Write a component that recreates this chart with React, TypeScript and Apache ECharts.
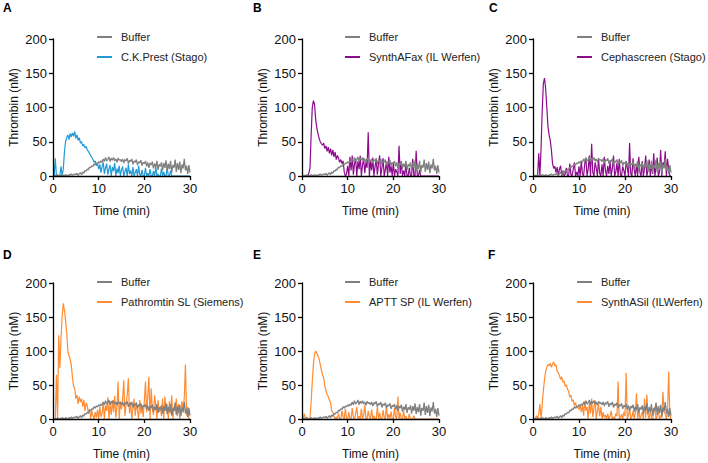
import React, { useEffect, useRef } from "react";
import * as echarts from "echarts";

// time step between samples (min)
const T_STEP = 0.25;
const xTicks = [0, 10, 20, 30];
const yTicks = [0, 50, 100, 150, 200];

const bufferVals = [
  0,0,1,0,2,0,1,0,2,1,0,2,1,0,2,1,3,1,2,3,
  2,4,1,3,5,2,6,4,8,7,10,9,13,12,15,14,18,16,19,18,
  21,19,22,20,25,21,27,22,24,28,21,26,23,27,22,25,20,26,23,24,
  21,25,19,24,22,26,18,23,21,25,17,22,20,24,16,21,19,23,15,20,
  18,22,14,20,12,19,16,21,11,18,13,22,9,17,14,20,8,19,12,23,
  7,18,10,22,5,16,12,24,6,19,9,21,4,17,11,25,8,15,3,16,5,
];

const ckPrestVals = [
  0,0,26,0,0,0,0,14,0,10,35,50,56,60,53,62,57,63,58,65,
  55,60,52,56,48,50,44,46,41,43,38,36,33,30,27,24,20,22,15,18,
  10,17,5,14,20,3,12,18,2,10,16,0,13,7,19,0,11,4,15,0,
  9,14,0,6,12,0,17,3,8,0,13,0,5,10,0,15,2,0,9,0,
  0,12,0,4,0,10,0,0,7,0,14,0,3,0,0,11,0,6,0,0,
  13,0,0,8,0,0,0,0,0,0,0,0,0,0,0,0,0,0,0,0,0,
];

const synthAFaxVals = [
  0,0,0,0,0,0,4,12,60,100,110,104,82,70,62,55,50,47,45,48,
  40,44,36,42,33,40,30,38,28,35,24,30,26,20,24,18,22,6,0,3,
  15,0,28,8,30,2,18,25,0,22,10,30,0,16,26,4,20,12,64,0,
  22,8,27,0,14,24,2,18,30,0,12,26,0,9,21,0,28,5,15,0,
  20,0,10,6,0,44,3,22,0,8,0,18,0,0,12,0,0,25,0,0,
  37,0,0,9,0,0,0,0,0,0,0,0,0,0,0,0,0,0,0,0,0,
];

const cephascreenVals = [
  0,0,0,0,0,33,0,40,95,135,143,128,100,72,60,52,38,18,11,14,
  5,13,0,10,15,0,8,0,3,12,0,0,18,2,0,10,20,0,6,0,
  14,0,22,3,0,18,26,0,10,30,0,47,5,0,20,12,0,25,4,0,
  17,0,28,8,0,15,3,22,0,11,30,0,6,19,0,25,2,0,14,8,
  0,21,12,0,48,3,0,26,9,0,17,0,28,5,0,22,0,11,30,0,
  8,24,0,18,3,33,0,12,27,0,6,38,0,20,14,36,0,25,9,0,0,
];

const pathromtinVals = [
  0,0,0,65,0,123,75,118,150,170,160,145,128,100,93,88,80,62,48,45,
  30,35,22,33,25,30,18,28,12,24,20,8,15,0,12,5,0,10,2,14,
  0,18,3,8,25,0,20,12,32,0,22,6,28,10,34,2,18,55,0,26,
  14,30,57,4,22,35,60,8,25,0,16,30,5,24,12,0,28,8,20,3,
  26,55,10,32,62,0,45,14,6,35,20,0,28,10,18,4,30,0,33,12,
  22,0,26,8,35,0,18,12,30,4,22,0,14,26,9,32,80,5,18,0,0,
];

const apttSpVals = [
  0,0,8,0,3,0,0,0,25,55,80,96,100,97,93,88,80,72,65,60,
  48,42,36,33,28,24,12,10,4,0,3,0,8,0,0,12,3,0,15,0,
  0,10,0,0,16,2,0,8,18,0,4,0,15,0,6,20,0,0,12,3,
  0,14,0,5,0,0,18,0,9,0,0,13,2,0,20,0,7,0,11,0,
  0,16,3,0,33,0,9,0,0,12,0,4,0,0,8,0,0,0,5,0,
  0,0,0,0,0,0,0,0,0,0,0,0,0,0,0,0,0,0,0,0,0,
];

const synthASilVals = [
  0,0,0,5,0,8,22,0,20,42,58,70,76,80,78,82,76,81,84,78,
  80,70,68,64,58,62,54,56,48,50,44,40,32,35,26,28,20,24,16,18,
  14,20,10,22,5,26,12,18,0,24,8,30,3,16,28,0,12,22,4,18,
  0,10,2,6,0,8,0,4,12,0,3,0,8,4,55,0,2,7,0,10,
  4,68,0,6,15,0,3,12,0,9,38,0,14,0,5,10,0,30,2,36,
  6,0,12,2,0,9,18,0,4,14,0,5,2,40,10,8,0,12,70,6,0,
];

const panelLetters = ["A", "B", "C", "D", "E", "F"];
const reagentNames = [
  "C.K.Prest (Stago)",
  "SynthAFax (IL Werfen)",
  "Cephascreen (Stago)",
  "Pathromtin SL (Siemens)",
  "APTT SP (IL Werfen)",
  "SynthASil (ILWerfen)",
];
const reagentValues = [ckPrestVals, synthAFaxVals, cephascreenVals, pathromtinVals, apttSpVals, synthASilVals];

// styling / layout
const BLUE = "#1f9ad6";
const PURPLE = "#8c0b8c";
const ORANGE = "#ff8c33";
const GRAY = "#808080";
const reagentColors = [BLUE, PURPLE, PURPLE, ORANGE, ORANGE, ORANGE];
const FONT = "'Liberation Sans', Arial, Helvetica, sans-serif";

const layout = [
  { left: 53, top: 39, width: 137, height: 137, legL: 97, legT: 30, lx: 3, ly: 2 },
  { left: 302, top: 39, width: 137, height: 137, legL: 345, legT: 30, lx: 253, ly: 2 },
  { left: 533, top: 39, width: 138, height: 137, legL: 577, legT: 30, lx: 489, ly: 2 },
  { left: 53, top: 283, width: 137, height: 136, legL: 97, legT: 275, lx: 3, ly: 249 },
  { left: 302, top: 283, width: 137, height: 136, legL: 345, legT: 275, lx: 253, ly: 249 },
  { left: 533, top: 283, width: 138, height: 136, legL: 577, legT: 275, lx: 488, ly: 249 },
];

const toPairs = (vals: number[]) => vals.map((v, i) => [i * T_STEP, v]);

export default function App() {
  const ref = useRef<HTMLDivElement>(null);
  useEffect(() => {
    if (!ref.current) return;
    const chart = echarts.init(ref.current, null, { renderer: "svg" });
    const axisLine = { show: true, lineStyle: { color: "#000", width: 1.3 } };
    const axisTick = { show: true, length: 4, lineStyle: { color: "#000", width: 1.3 } };
    const tickStyle = { fontSize: 13, color: "#111", fontFamily: FONT };
    const nameStyle = { fontSize: 12, color: "#111", fontFamily: FONT };

    const option: any = {
      animation: false,
      backgroundColor: "#fff",
      textStyle: { fontFamily: FONT },
      title: layout.map((l, i) => ({
        text: panelLetters[i],
        left: l.lx,
        top: l.ly,
        padding: 0,
        textStyle: { fontSize: 12, fontWeight: "bold", color: "#000", fontFamily: FONT },
      })),
      legend: layout.map((l, i) => ({
        data: ["Buffer", reagentNames[i]],
        left: l.legL,
        top: l.legT,
        orient: "vertical",
        icon: "rect",
        itemWidth: 15,
        itemHeight: 2,
        itemGap: 6,
        padding: 0,
        selectedMode: false,
        textStyle: { fontSize: 11, color: "#222", fontFamily: FONT, padding: [0, 0, 0, 4], lineHeight: 14 },
      })),
      grid: layout.map((l) => ({ left: l.left, top: l.top, width: l.width, height: l.height, containLabel: false })),
      xAxis: layout.map((_, i) => ({
        type: "value",
        gridIndex: i,
        min: xTicks[0],
        max: xTicks[xTicks.length - 1],
        interval: xTicks[1] - xTicks[0],
        z: 5,
        name: "Time (min)",
        nameLocation: "middle",
        nameGap: 29,
        nameTextStyle: { ...nameStyle },
        axisLine,
        axisTick,
        splitLine: { show: false },
        axisLabel: { ...tickStyle, margin: 6 },
      })),
      yAxis: layout.map((_, i) => ({
        type: "value",
        gridIndex: i,
        min: yTicks[0],
        max: yTicks[yTicks.length - 1],
        interval: yTicks[1] - yTicks[0],
        z: 5,
        name: "Thrombin (nM)",
        nameLocation: "middle",
        nameGap: 33,
        nameTextStyle: { ...nameStyle },
        axisLine,
        axisTick,
        splitLine: { show: false },
        axisLabel: { ...tickStyle, margin: 6 },
      })),
      series: layout.flatMap((_, i) => [
        {
          type: "line",
          name: reagentNames[i],
          xAxisIndex: i,
          yAxisIndex: i,
          data: toPairs(reagentValues[i]),
          symbol: "none",
          color: reagentColors[i],
          lineStyle: { color: reagentColors[i], width: 1.2 },
          z: 2,
        },
        {
          type: "line",
          name: "Buffer",
          xAxisIndex: i,
          yAxisIndex: i,
          data: toPairs(bufferVals),
          symbol: "none",
          color: GRAY,
          lineStyle: { color: GRAY, width: 1.3 },
          z: 3,
        },
      ]),
    };
    chart.setOption(option);
    return () => chart.dispose();
  }, []);
  return (
    <div
      ref={ref}
      style={{ position: "fixed", left: 0, top: 0, width: 708, height: 463, background: "#fff" }}
    />
  );
}
